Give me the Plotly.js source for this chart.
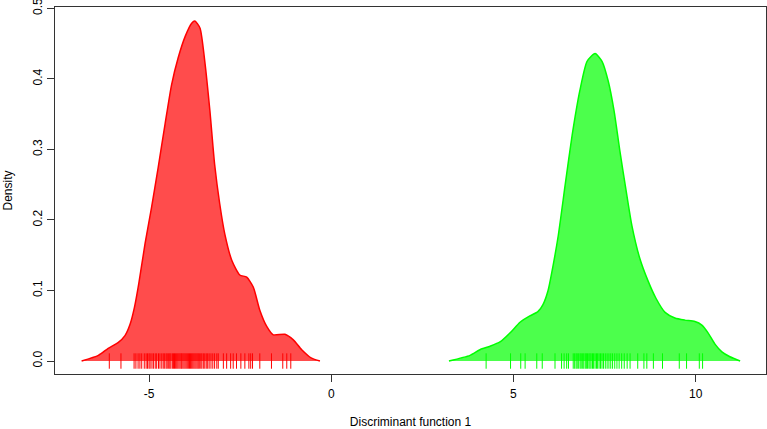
<!DOCTYPE html>
<html>
<head>
<meta charset="utf-8">
<script src="https://cdn.plot.ly/plotly-3.0.1.min.js"></script>
<style>html,body{margin:0;padding:0;background:#fff;}#chart{width:767px;height:429px;}</style>
</head>
<body>
<div id="chart"></div>
<script>
// Density of group 1 (red)
var redX = [-6.85,-6.39,-6.12,-5.85,-5.66,-5.52,-5.40,-5.28,-5.11,-4.93,-4.75,-4.56,-4.38,-4.20,-4.01,-3.83,-3.74,-3.60,-3.47,-3.33,-3.20,-3.06,-2.92,-2.73,-2.51,-2.32,-2.14,-1.96,-1.77,-1.59,-1.27,-1.04,-0.81,-0.54,-0.31];
var redY = [0,0.008,0.018,0.026,0.036,0.052,0.076,0.110,0.166,0.218,0.274,0.336,0.392,0.430,0.460,0.479,0.482,0.472,0.425,0.355,0.279,0.223,0.180,0.143,0.122,0.119,0.105,0.072,0.049,0.037,0.038,0.030,0.016,0.004,0];
// Density of group 2 (green)
var greenX = [3.23,3.81,4.08,4.36,4.63,4.91,5.18,5.45,5.67,5.81,5.95,6.09,6.23,6.42,6.61,6.82,7.02,7.24,7.43,7.60,7.76,7.92,8.09,8.25,8.47,8.69,8.91,9.16,9.43,9.70,9.98,10.17,10.34,10.53,10.72,10.94,11.22];
var greenY = [0,0.008,0.016,0.021,0.027,0.040,0.055,0.064,0.070,0.080,0.100,0.136,0.178,0.250,0.320,0.383,0.425,0.436,0.425,0.397,0.355,0.298,0.242,0.192,0.145,0.114,0.089,0.069,0.061,0.058,0.056,0.051,0.040,0.024,0.013,0.006,0];
// Individual scores (rug)
var redRug = [-6.09,-5.77,-5.41,-5.36,-5.30,-5.25,-5.20,-5.13,-5.08,-5.04,-5.00,-4.97,-4.92,-4.88,-4.83,-4.79,-4.74,-4.70,-4.65,-4.61,-4.57,-4.53,-4.50,-4.46,-4.43,-4.40,-4.36,-4.33,-4.30,-4.27,-4.24,-4.21,-4.18,-4.15,-4.12,-4.10,-4.07,-4.04,-4.01,-3.98,-3.95,-3.92,-3.89,-3.86,-3.83,-3.80,-3.77,-3.74,-3.71,-3.68,-3.65,-3.62,-3.58,-3.55,-3.51,-3.47,-3.43,-3.39,-3.35,-3.30,-3.25,-3.20,-3.14,-3.10,-2.96,-2.87,-2.76,-2.69,-2.60,-2.48,-2.37,-2.26,-2.21,-2.16,-1.96,-1.64,-1.33,-1.22,-1.11];
var greenRug = [4.25,4.92,5.20,5.32,5.64,5.79,6.14,6.32,6.39,6.46,6.51,6.64,6.68,6.72,6.75,6.79,6.83,6.86,6.90,6.93,6.97,7.00,7.03,7.07,7.10,7.13,7.17,7.20,7.24,7.28,7.31,7.35,7.39,7.43,7.47,7.52,7.57,7.62,7.67,7.72,7.78,7.84,7.90,7.97,8.04,8.12,8.20,8.41,8.58,8.66,8.84,9.09,9.55,9.75,10.10,10.19];
var xTicks = [-5,0,5,10];
var xTickText = ['-5','0','5','10'];
var yTicks = [0,0.1,0.2,0.3,0.4,0.5];
var yTickText = ['0.0','0.1','0.2','0.3','0.4','0.5'];

function zeros(a){return a.map(function(){return 0;});}

var traces = [
  {x: redX, y: redY, type:'scatter', mode:'lines', line:{color:'#ff0000', width:1.5, shape:'spline', smoothing:0.6}, fill:'tozeroy', fillcolor:'rgba(255,0,0,0.7)', hoverinfo:'skip'},
  {x: greenX, y: greenY, type:'scatter', mode:'lines', line:{color:'#00ff00', width:1.5, shape:'spline', smoothing:0.6}, fill:'tozeroy', fillcolor:'rgba(0,255,0,0.7)', hoverinfo:'skip'},
  {x: redRug, y: zeros(redRug), type:'scatter', mode:'markers', marker:{symbol:'line-ns-open', size:11, color:'#ff0000', line:{color:'#ff0000', width:1}}},
  {x: greenRug, y: zeros(greenRug), type:'scatter', mode:'markers', marker:{symbol:'line-ns-open', size:11, color:'#00ff00', line:{color:'#00ff00', width:1}}}
];

var font = {family:'Liberation Sans, Arial, Helvetica, sans-serif', size:12, color:'#000'};
var layout = {
  width:767, height:429,
  margin:{l:55, r:1, t:7, b:55},
  showlegend:false,
  paper_bgcolor:'#fff', plot_bgcolor:'#fff',
  font: font,
  xaxis:{range:[-7.58,11.93], tickvals:xTicks, ticktext:xTickText, ticks:'outside', ticklen:7, tickcolor:'#333', ticklabelstandoff:2, showgrid:false, zeroline:false, showline:true, mirror:true, linecolor:'#333', linewidth:1, title:{text:'Discriminant function 1', font:font, standoff:22}, automargin:false},
  yaxis:{range:[-0.0184,0.502], tickvals:yTicks, ticktext:yTickText, tickangle:-90, ticks:'outside', ticklen:7, tickcolor:'#333', ticklabeloverflow:'allow', showgrid:false, zeroline:false, showline:true, mirror:true, linecolor:'#333', linewidth:1, title:{text:'Density', font:font, standoff:16}, automargin:false}
};
Plotly.newPlot('chart', traces, layout, {displayModeBar:false, staticPlot:true});
</script>
</body>
</html>
